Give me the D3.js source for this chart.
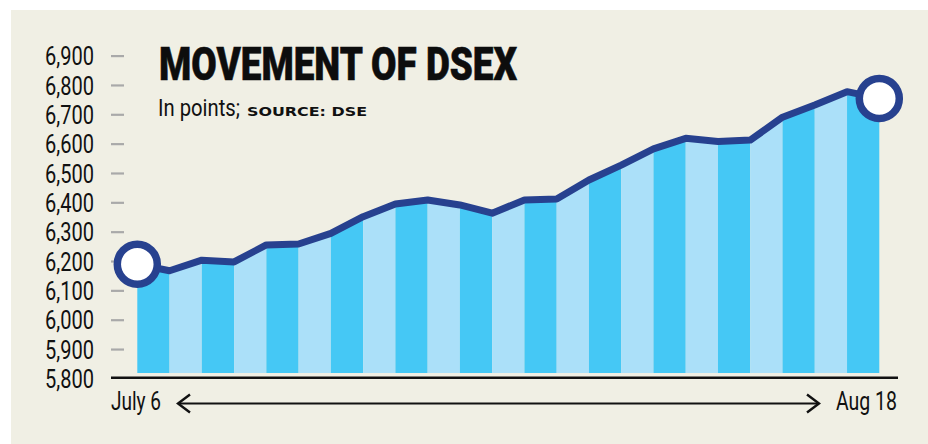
<!DOCTYPE html>
<html>
<head>
<meta charset="utf-8">
<script src="https://cdn.jsdelivr.net/npm/d3@7"></script>
<style>
  html, body { margin: 0; padding: 0; background: #ffffff; }
  svg { display: block; }
</style>
</head>
<body>
<svg id="chart" width="928" height="444"></svg>
<script>
// ---- data ----
const sessions = [1,2,3,4,5,6,7,8,9,10,11,12,13,14,15,16,17,18,19,20,21,22,23,24];
const dsex = [6189,6167,6203,6197,6255,6258,6294,6351,6394,6408,6391,6363,
              6408,6411,6476,6527,6582,6618,6607,6612,6690,6732,6777,6754];
const yTicks = [5800,5900,6000,6100,6200,6300,6400,6500,6600,6700,6800,6900];
const xLabels = ["July 6", "Aug 18"];
const title = "MOVEMENT OF DSEX";
const subtitle = "In points;";
const source = "SOURCE: DSE";

// ---- drawing ----
const svg = d3.select("#chart");
const W = 928, H = 444;
const font = "Roboto, 'Liberation Sans', sans-serif";

svg.append("rect").attr("x", 11).attr("y", 10).attr("width", W - 11).attr("height", H - 10)
  .attr("fill", "#f0efe4");

const x = d3.scalePoint().domain(sessions).range([137.3, 879.3]);
const y = d3.scaleLinear().domain([5800, 6900]).range([378.4, 55.6]);

const pts = sessions.map((s, i) => ({s, v: dsex[i]}));

// y axis
const yAxis = d3.axisLeft(y).tickValues(yTicks).tickFormat(d3.format(",")).tickSize(13).tickPadding(17);
const gy = svg.append("g").attr("transform", "translate(124,0)").call(yAxis);
gy.select(".domain").remove();
gy.selectAll(".tick line").attr("stroke", "#a9a9a9").attr("stroke-width", 2.2)
  .filter(d => d === 5800).remove();
gy.selectAll(".tick text").attr("font-family", font).attr("font-size", 26)
  .attr("fill", "#111").attr("dy", "0.35em")
  .attr("textLength", 49).attr("lengthAdjust", "spacingAndGlyphs");

// striped area
const stripeBottom = y(5800) - 5.5;
const area = d3.area().x(d => x(d.s)).y0(stripeBottom).y1(d => y(d.v));
for (let i = 0; i < pts.length - 1; i++) {
  svg.append("path").attr("d", area([pts[i], pts[i + 1]]))
    .attr("fill", i % 2 === 0 ? "#45c8f5" : "#abe0f9");
}

// baseline
svg.append("line").attr("x1", 111).attr("x2", 898).attr("y1", 377.8).attr("y2", 377.8)
  .attr("stroke", "#111").attr("stroke-width", 2.6);

// line
const line = d3.line().x(d => x(d.s)).y(d => y(d.v));
svg.append("path").attr("d", line(pts)).attr("fill", "none")
  .attr("stroke", "#27418f").attr("stroke-width", 7).attr("stroke-linejoin", "round");

// end circles
[pts[0], pts[pts.length - 1]].forEach(p => {
  svg.append("circle").attr("cx", x(p.s)).attr("cy", y(p.v)).attr("r", 20)
    .attr("fill", "#ffffff").attr("stroke", "#27418f").attr("stroke-width", 7.5);
});

// title
svg.append("text").attr("x", 159).attr("y", 79.5).text(title)
  .attr("font-family", font).attr("font-weight", 900).attr("font-size", 47)
  .attr("fill", "#0d0d0d").attr("stroke", "#0d0d0d").attr("stroke-width", 0.6)
  .attr("textLength", 358).attr("lengthAdjust", "spacingAndGlyphs");
svg.append("text").attr("x", 158).attr("y", 116).text(subtitle)
  .attr("font-family", font).attr("font-size", 24).attr("fill", "#111")
  .attr("textLength", 82).attr("lengthAdjust", "spacingAndGlyphs");
svg.append("text").attr("x", 247).attr("y", 116).text(source)
  .attr("font-family", "'DejaVu Sans', sans-serif").attr("font-weight", "bold").attr("font-size", 12.5)
  .attr("fill", "#111").attr("textLength", 120).attr("lengthAdjust", "spacingAndGlyphs");

// x labels
svg.append("text").attr("x", 111).attr("y", 409.5).text(xLabels[0])
  .attr("font-family", font).attr("font-size", 26).attr("fill", "#111")
  .attr("textLength", 50).attr("lengthAdjust", "spacingAndGlyphs");
svg.append("text").attr("x", 836).attr("y", 410).text(xLabels[1])
  .attr("font-family", font).attr("font-size", 26).attr("fill", "#111")
  .attr("textLength", 61).attr("lengthAdjust", "spacingAndGlyphs");

// arrow
const ay = 403.5, ax1 = 178, ax2 = 819;
svg.append("line").attr("x1", ax1 + 1).attr("x2", ax2 - 1).attr("y1", ay).attr("y2", ay)
  .attr("stroke", "#111").attr("stroke-width", 2.2);
svg.append("path").attr("d", `M${ax1 + 12},${ay - 9}L${ax1},${ay}L${ax1 + 12},${ay + 9}`)
  .attr("fill", "none").attr("stroke", "#111").attr("stroke-width", 2.4);
svg.append("path").attr("d", `M${ax2 - 12},${ay - 9}L${ax2},${ay}L${ax2 - 12},${ay + 9}`)
  .attr("fill", "none").attr("stroke", "#111").attr("stroke-width", 2.4);
</script>
</body>
</html>
